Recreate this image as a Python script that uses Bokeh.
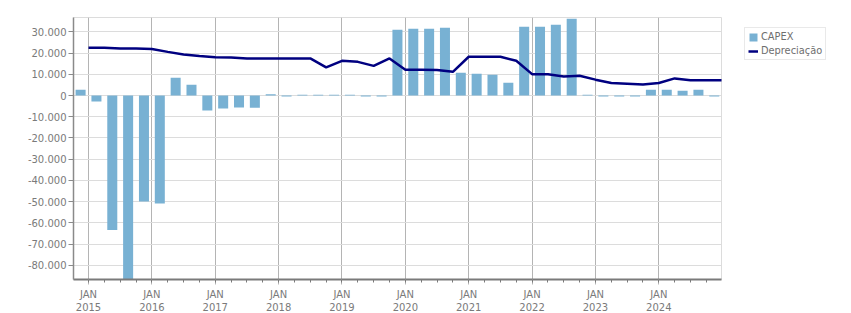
from bokeh.plotting import figure
from bokeh.models import ColumnDataSource, FixedTicker, Legend, LegendItem
from bokeh.embed import file_html
from bokeh.resources import INLINE

# ---------------- data ----------------
bar_periods = [
    "2014-Q4",
    "2015-Q1", "2015-Q2", "2015-Q3", "2015-Q4",
    "2016-Q1", "2016-Q2", "2016-Q3", "2016-Q4",
    "2017-Q1", "2017-Q2", "2017-Q3", "2017-Q4",
    "2018-Q1", "2018-Q2", "2018-Q3", "2018-Q4",
    "2019-Q1", "2019-Q2", "2019-Q3", "2019-Q4",
    "2020-Q1", "2020-Q2", "2020-Q3", "2020-Q4",
    "2021-Q1", "2021-Q2", "2021-Q3", "2021-Q4",
    "2022-Q1", "2022-Q2", "2022-Q3", "2022-Q4",
    "2023-Q1", "2023-Q2", "2023-Q3", "2023-Q4",
    "2024-Q1", "2024-Q2", "2024-Q3", "2024-Q4",
]
capex = [
    2700,
    -2800, -63400, -88000, -49900,
    -50900, 8400, 5100, -7000,
    -6100, -5600, -5750, 600,
    -400, 400, 400, 400,
    400, -400, -400, 31000,
    31500, 31500, 32000, 10700,
    10300, 9800, 6000, 32400,
    32400, 33400, 36200, 400,
    -400, -400, -400, 2700,
    2700, 2300, 2700, -400,
]

line_periods = [
    "2015-Q1", "2015-Q2", "2015-Q3", "2015-Q4",
    "2016-Q1", "2016-Q2", "2016-Q3", "2016-Q4",
    "2017-Q1", "2017-Q2", "2017-Q3", "2017-Q4",
    "2018-Q1", "2018-Q2", "2018-Q3", "2018-Q4",
    "2019-Q1", "2019-Q2", "2019-Q3", "2019-Q4",
    "2020-Q1", "2020-Q2", "2020-Q3", "2020-Q4",
    "2021-Q1", "2021-Q2", "2021-Q3", "2021-Q4",
    "2022-Q1", "2022-Q2", "2022-Q3", "2022-Q4",
    "2023-Q1", "2023-Q2", "2023-Q3", "2023-Q4",
    "2024-Q1", "2024-Q2", "2024-Q3", "2024-Q4",
    "2025-Q1",
]
depreciacao = [
    22500, 22500, 22200, 22200,
    22000, 20600, 19400, 18600,
    18100, 18000, 17500, 17500,
    17500, 17500, 17500, 13250,
    16400, 15900, 14000, 17500,
    12200, 12200, 12100, 11200,
    18300, 18300, 18300, 16400,
    10100, 10000, 9000, 9300,
    7500, 5900, 5600, 5200,
    5900, 8100, 7200, 7200,
    7200,
]

year_ticks = [2015, 2016, 2017, 2018, 2019, 2020, 2021, 2022, 2023, 2024]
year_labels = ["JAN\n%d" % y for y in year_ticks]
y_ticks = [30000, 20000, 10000, 0, -10000, -20000, -30000, -40000,
           -50000, -60000, -70000, -80000]
y_labels = ["30.000", "20.000", "10.000", "0", "-10.000", "-20.000", "-30.000",
            "-40.000", "-50.000", "-60.000", "-70.000", "-80.000"]


def quarter_start(p):
    y, q = p.split("-Q")
    return int(y) + (int(q) - 1) / 4.0


bar_x = [quarter_start(p) + 0.125 for p in bar_periods]
line_x = [quarter_start(p) for p in line_periods]
minor = [y + k / 4.0 for y in range(2014, 2026) for k in range(4)]

bar_src = ColumnDataSource(dict(x=bar_x, top=capex))
line_src = ColumnDataSource(dict(x=line_x, y=depreciacao))

FONT = "DejaVu Sans"
TXT = "#7a7a7a"

p = figure(frame_width=648, frame_height=262,
           x_range=(2014.763, 2024.989), y_range=(-86700, 36800),
           output_backend="svg", toolbar_location=None,
           min_border_left=73, min_border_right=0,
           min_border_top=17, min_border_bottom=34)
p.background_fill_color = "white"
p.border_fill_color = "white"
p.outline_line_color = "#dcdcdc"
p.outline_line_width = 1

bars = p.vbar(x="x", top="top", bottom=0, width=0.158, source=bar_src,
              fill_color="#78b1d3", line_color=None)
ln = p.line(x="x", y="y", source=line_src, line_color="#000080", line_width=2.5)

# axes
xa = p.xaxis[0]
xa.ticker = FixedTicker(ticks=year_ticks, minor_ticks=minor)
xa.major_label_overrides = {t: l for t, l in zip(year_ticks, year_labels)}
xa.axis_line_color = "#7a7a7a"
xa.axis_line_width = 2
xa.major_tick_line_color = "#b4b4b4"
xa.major_tick_out = 5
xa.major_tick_in = 0
xa.minor_tick_line_color = "#7a7a7a"
xa.minor_tick_out = 3
xa.minor_tick_in = 0
xa.major_label_standoff = 4
xa.major_label_text_font = FONT
xa.major_label_text_font_size = "10px"
xa.major_label_text_color = TXT

ya = p.yaxis[0]
ya.ticker = FixedTicker(ticks=y_ticks, minor_ticks=[])
ya.major_label_overrides = {t: l for t, l in zip(y_ticks, y_labels)}
ya.axis_line_color = "#8a8a8a"
ya.axis_line_width = 1.5
ya.major_tick_line_color = "#8a8a8a"
ya.major_tick_out = 5
ya.major_tick_in = 0
ya.minor_tick_line_color = None
ya.major_label_standoff = 2
ya.major_label_text_font = FONT
ya.major_label_text_font_size = "10px"
ya.major_label_text_color = TXT

p.xgrid.grid_line_color = "#b4b4b4"
p.xgrid.grid_line_width = 1
p.ygrid.grid_line_color = "#dcdcdc"
p.ygrid.grid_line_width = 1

legend = Legend(items=[LegendItem(label="CAPEX", renderers=[bars]),
                       LegendItem(label="Depreciação", renderers=[ln])],
                location="top_left", margin=0, padding=3, spacing=3,
                glyph_width=10, glyph_height=10, label_height=10,
                label_standoff=3,
                label_text_font=FONT, label_text_font_size="9.8px",
                label_text_color="#6e6e6e",
                border_line_color="#d4d4d4", border_line_width=1,
                background_fill_color="white", background_fill_alpha=1)
p.add_layout(legend, "right")
# place the legend box inside the right side panel
legend.location = (23, 219)
p.min_border_right = 130

open("out.html", "w").write(file_html(p, INLINE))
